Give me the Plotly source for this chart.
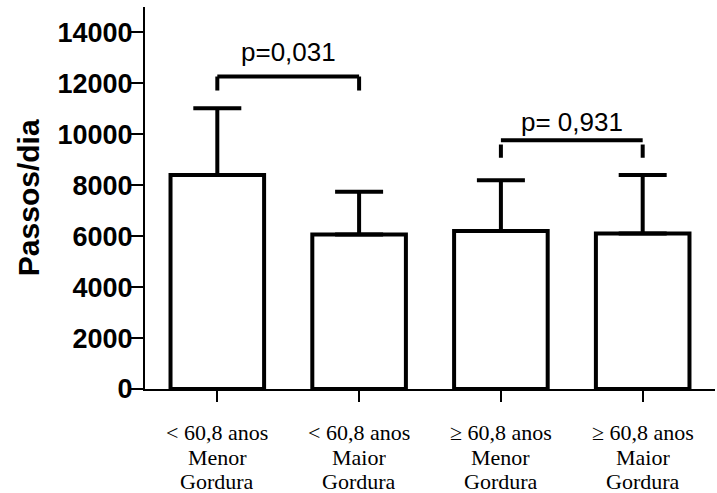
import plotly.graph_objects as go

# ---- data ----
cat_line1 = ["< 60,8 anos", "< 60,8 anos", "≥ 60,8 anos", "≥ 60,8 anos"]
cat_line2 = ["Menor", "Maior", "Menor", "Maior"]
cat_line3 = ["Gordura", "Gordura", "Gordura", "Gordura"]
means = [8400, 6070, 6200, 6110]
sd_up = [2620, 1680, 2000, 2290]
y_ticks = [0, 2000, 4000, 6000, 8000, 10000, 12000, 14000]
brackets = [(0, 1), (2, 3)]
bracket_top = [12270, 9770]
bracket_end = [11720, 9080]
bracket_gap = [0, 170]
p_labels = ["p=0,031", "p= 0,931"]
p_label_y = [13230, 10480]

x = list(range(len(means)))

fig = go.Figure()
fig.add_trace(go.Bar(
    x=x, y=means, width=0.66,
    marker=dict(color="white", line=dict(color="black", width=4)),
    error_y=dict(type="data", symmetric=False, array=sd_up,
                 arrayminus=[0] * len(means),
                 color="black", thickness=4, width=24),
    showlegend=False, hoverinfo="skip",
))

shapes = []
for (a, b), yt, ye, g in zip(brackets, bracket_top, bracket_end, bracket_gap):
    shapes.append(dict(type="line", xref="x", yref="y", x0=a, x1=b, y0=yt, y1=yt,
                       line=dict(color="black", width=4)))
    for xx in (a, b):
        shapes.append(dict(type="line", xref="x", yref="y", x0=xx, x1=xx, y0=yt - g, y1=ye,
                           line=dict(color="black", width=4)))

annotations = []
for (a, b), lab, ly in zip(brackets, p_labels, p_label_y):
    annotations.append(dict(x=(a + b) / 2, y=ly, xref="x", yref="y", text=lab,
                            showarrow=False, xanchor="center", yanchor="middle",
                            font=dict(family="Liberation Sans, Arial", size=26, color="black")))

serif = dict(family="Liberation Serif, Times New Roman", size=22, color="black")
for i in x:
    for txt, shift in ((cat_line1[i], -43), (cat_line2[i], -68), (cat_line3[i], -92)):
        annotations.append(dict(x=i, y=0, xref="x", yref="paper", yshift=shift, text=txt,
                                height=24, valign="middle",
                                showarrow=False, xanchor="center", yanchor="middle", font=serif))

annotations.append(dict(x=-0.205, y=0.5, xref="paper", yref="paper", text="<b>Passos/dia</b>",
                        textangle=-90, showarrow=False, xanchor="center", yanchor="middle",
                        font=dict(family="Liberation Sans, Arial", size=30, color="black")))

fig.update_layout(
    width=717, height=493,
    margin=dict(l=145, r=2, t=7, b=103.5),
    paper_bgcolor="white", plot_bgcolor="white",
    shapes=shapes, annotations=annotations,
    xaxis=dict(range=[-0.51, 3.51], tickvals=x, showticklabels=False,
               ticks="outside", ticklen=11, tickwidth=2, tickcolor="black",
               showline=True, linecolor="black", linewidth=2,
               showgrid=False, zeroline=False, fixedrange=True),
    yaxis=dict(range=[0, 15000], tickvals=y_ticks, ticktext=[str(v) for v in y_ticks],
               ticks="outside", ticklen=12, tickwidth=2, tickcolor="black",
               ticklabelstandoff=-7,
               tickfont=dict(family="Liberation Sans, Arial", size=27, color="black", weight="bold"),
               showline=True, linecolor="black", linewidth=2,
               showgrid=False, zeroline=False, fixedrange=True),
)

fig.write_html("out.html", config={"displayModeBar": False},
               post_script="document.body.style.margin='0';")
